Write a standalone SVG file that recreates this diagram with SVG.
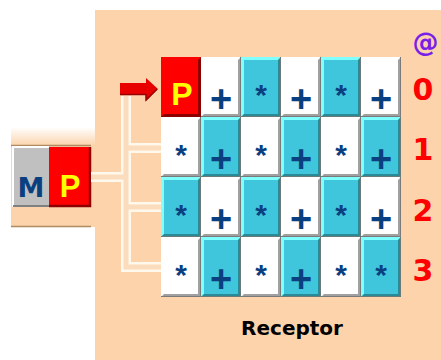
<svg xmlns="http://www.w3.org/2000/svg" xmlns:xlink="http://www.w3.org/1999/xlink" width="441" height="360" viewBox="0 0 441 360">
<style>
.sym{font-family:"Liberation Sans",Arial,sans-serif;font-weight:bold;fill:#0a3f80;text-anchor:middle}
.plus{font-size:38px}
.star{font-size:30px}
.idx{font-family:"DejaVu Sans",sans-serif;font-weight:bold;font-size:30px;fill:#ff0000;text-anchor:middle}
.pipeO{fill:none;stroke:#fff8ec;stroke-width:10}
.pipeI{fill:none;stroke:#fbdcbc;stroke-width:5}
</style>
<defs>
<linearGradient id="fadeTop" x1="0" y1="0" x2="0" y2="1">
<stop offset="0" stop-color="#ffffff"/>
<stop offset="1" stop-color="#fcd3ab"/>
</linearGradient>
<g id="cW"><rect width="40" height="60" fill="#ffffff"/><path d="M40,0 V60 H0 L3,57 H37 V3 Z" fill="#a0a0a0"/><path d="M39.5,0 V59.5 H0" fill="none" stroke="#7a7a7a" stroke-width="1"/></g>
<g id="cC"><rect width="40" height="60" fill="#40c6dc"/><path d="M0,60 V0 H40 L37,3 H3 V57 Z" fill="#80ffff"/><path d="M40,0 V60 H0 L3,57 H37 V3 Z" fill="#2a8a96"/><path d="M39.5,0 V59.5 H0" fill="none" stroke="#6a7a7a" stroke-width="1"/></g>
<g id="cR"><rect width="40" height="60" fill="#ff0000"/><path d="M40,0 V60 H0 L3,57 H37 V3 Z" fill="#8c0000"/></g>
</defs>
<rect width="441" height="360" fill="#ffffff"/>
<rect x="95" y="10" width="346" height="350" fill="#fcd3ab"/>
<g id="source">
<rect x="11" y="127" width="84" height="19" fill="url(#fadeTop)"/>
<rect x="11" y="145" width="84" height="82" fill="#fcd3ab"/>
<line x1="11" y1="145.5" x2="91" y2="145.5" stroke="#b08a60" stroke-width="1.5"/>
<line x1="11" y1="226.5" x2="91" y2="226.5" stroke="#b08a60" stroke-width="1.5"/>
<rect x="13" y="147" width="36" height="60" fill="#c0c0c0"/>
<path d="M13,207 V147 H49" fill="none" stroke="#ffffff" stroke-width="2"/>
<path d="M13,206 H49" fill="none" stroke="#808080" stroke-width="2"/>
<text x="31" y="197" style="font-family:'DejaVu Sans',sans-serif;font-weight:bold;font-size:27px;fill:#0a3f80;text-anchor:middle">M</text>
<rect x="49" y="147" width="42" height="60" fill="#ff0000"/>
<path d="M90,147 V206 H49" fill="none" stroke="#8c0000" stroke-width="2.5"/>
<text x="70" y="197" style="font-family:'Liberation Sans',Arial,sans-serif;font-weight:bold;font-size:31px;fill:#ffff00;text-anchor:middle">P</text>
</g>
<g id="connectors">
<path class="pipeO" d="M126,96 V267 H161 M126,148 H161 M126,207 H161 M91,177 H126"/>
<path class="pipeI" d="M126,96 V267 H161 M126,148 H161 M126,207 H161 M91,177 H126"/>
<polygon points="120,83 146,83 146,78 158,89 146,101 146,95 120,95" fill="#e80000"/>
<path d="M120,94.5 H146 V100 L157,89" fill="none" stroke="#9a0000" stroke-width="1.5"/>
</g>
<g id="receptor">
<g id="cell-0-0" transform="translate(161,57)"><use xlink:href="#cR"/><text x="21" y="48" style="font-family:'Liberation Sans',Arial,sans-serif;font-weight:bold;font-size:32px;fill:#ffff00;text-anchor:middle">P</text></g>
<g id="cell-0-1" transform="translate(201,57)"><use xlink:href="#cW"/><text class="sym plus" x="20" y="55">+</text></g>
<g id="cell-0-2" transform="translate(241,57)"><use xlink:href="#cC"/><text class="sym star" x="20" y="48">*</text></g>
<g id="cell-0-3" transform="translate(281,57)"><use xlink:href="#cW"/><text class="sym plus" x="20" y="55">+</text></g>
<g id="cell-0-4" transform="translate(321,57)"><use xlink:href="#cC"/><text class="sym star" x="20" y="48">*</text></g>
<g id="cell-0-5" transform="translate(361,57)"><use xlink:href="#cW"/><text class="sym plus" x="20" y="55">+</text></g>

<g id="cell-1-0" transform="translate(161,117)"><use xlink:href="#cW"/><text class="sym star" x="20" y="48">*</text></g>
<g id="cell-1-1" transform="translate(201,117)"><use xlink:href="#cC"/><text class="sym plus" x="20" y="55">+</text></g>
<g id="cell-1-2" transform="translate(241,117)"><use xlink:href="#cW"/><text class="sym star" x="20" y="48">*</text></g>
<g id="cell-1-3" transform="translate(281,117)"><use xlink:href="#cC"/><text class="sym plus" x="20" y="55">+</text></g>
<g id="cell-1-4" transform="translate(321,117)"><use xlink:href="#cW"/><text class="sym star" x="20" y="48">*</text></g>
<g id="cell-1-5" transform="translate(361,117)"><use xlink:href="#cC"/><text class="sym plus" x="20" y="55">+</text></g>

<g id="cell-2-0" transform="translate(161,177)"><use xlink:href="#cC"/><text class="sym star" x="20" y="48">*</text></g>
<g id="cell-2-1" transform="translate(201,177)"><use xlink:href="#cW"/><text class="sym plus" x="20" y="55">+</text></g>
<g id="cell-2-2" transform="translate(241,177)"><use xlink:href="#cC"/><text class="sym star" x="20" y="48">*</text></g>
<g id="cell-2-3" transform="translate(281,177)"><use xlink:href="#cW"/><text class="sym plus" x="20" y="55">+</text></g>
<g id="cell-2-4" transform="translate(321,177)"><use xlink:href="#cC"/><text class="sym star" x="20" y="48">*</text></g>
<g id="cell-2-5" transform="translate(361,177)"><use xlink:href="#cW"/><text class="sym plus" x="20" y="55">+</text></g>

<g id="cell-3-0" transform="translate(161,237)"><use xlink:href="#cW"/><text class="sym star" x="20" y="48">*</text></g>
<g id="cell-3-1" transform="translate(201,237)"><use xlink:href="#cC"/><text class="sym plus" x="20" y="55">+</text></g>
<g id="cell-3-2" transform="translate(241,237)"><use xlink:href="#cW"/><text class="sym star" x="20" y="48">*</text></g>
<g id="cell-3-3" transform="translate(281,237)"><use xlink:href="#cC"/><text class="sym plus" x="20" y="55">+</text></g>
<g id="cell-3-4" transform="translate(321,237)"><use xlink:href="#cW"/><text class="sym star" x="20" y="48">*</text></g>
<g id="cell-3-5" transform="translate(361,237)"><use xlink:href="#cC"/><text class="sym star" x="20" y="48">*</text></g>
</g>
<g id="labels">
<text x="425.5" y="51" style="font-family:'DejaVu Sans',sans-serif;font-weight:bold;font-size:26px;fill:#7a1fe8;text-anchor:middle">@</text>
<text class="idx" x="423" y="100">0</text>
<text class="idx" x="423" y="160">1</text>
<text class="idx" x="423" y="221">2</text>
<text class="idx" x="423" y="281">3</text>
<text x="292" y="335" style="font-family:'DejaVu Sans',sans-serif;font-weight:bold;font-size:20px;fill:#000000;text-anchor:middle">Receptor</text>
</g>
</svg>
